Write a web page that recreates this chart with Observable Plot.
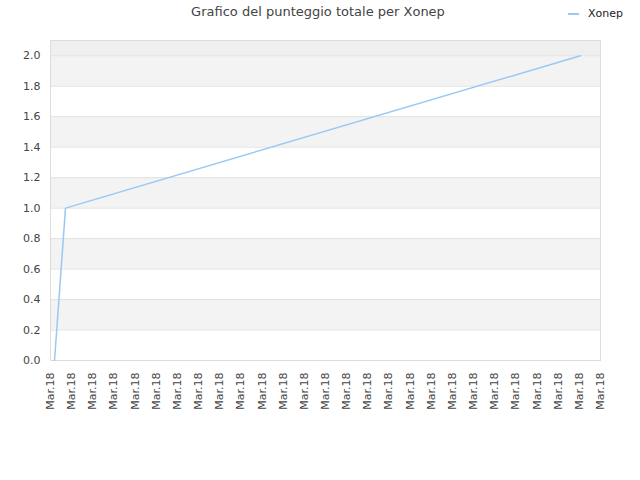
<!DOCTYPE html>
<html><head><meta charset="utf-8">
<script src="https://cdn.jsdelivr.net/npm/d3@7"></script>
<script src="https://cdn.jsdelivr.net/npm/@observablehq/plot@0.6"></script>
<style>
body{margin:0;background:#fff;font-family:"DejaVu Sans",sans-serif;}
#wrap{position:relative;width:640px;height:480px;}
#title{position:absolute;left:0;width:636px;top:4px;text-align:center;font-size:13px;color:#444;}
#legend{position:absolute;left:568px;top:7px;font-size:11px;color:#222;display:flex;align-items:center;}
#legend span.sw{display:inline-block;width:11px;height:2px;background:#99c8f5;margin-right:9px;}
#chart{position:absolute;left:0;top:0;}
</style></head>
<body><div id="wrap"><div id="chart"></div><div id="title">Grafico del punteggio totale per Xonep</div><div id="legend"><span class="sw"></span>Xonep</div></div>
<script>
const seriesName = "Xonep";
const xIndex = [0.19, 0.71, 25.05];
const scores = [0, 1, 2];
const xTicks = d3.range(0, 27);
const xTickLabel = "Mar.18";
const yTicks = [0, 0.2, 0.4, 0.6, 0.8, 1.0, 1.2, 1.4, 1.6, 1.8, 2.0];
const grayBandStarts = [0.2, 0.6, 1.0, 1.4, 1.8];
const topBand = [2.0, 2.1];

const data = xIndex.map((x, i) => ({x, y: scores[i], s: seriesName}));
const bands = grayBandStarts.map(b => ({y1: b, y2: Math.round((b + 0.2) * 10) / 10}));

const plot = Plot.plot({
  width: 640, height: 480,
  marginLeft: 50, marginRight: 40, marginTop: 40, marginBottom: 120,
  style: {fontFamily: "DejaVu Sans, sans-serif", fontSize: "11px", color: "#444", background: "transparent"},
  x: {domain: [0, 26], axis: null},
  y: {domain: [0, 2.1], axis: null},
  marks: [
    Plot.rect(bands, {x1: 0, x2: 26, y1: "y1", y2: "y2", fill: "#f3f3f3"}),
    Plot.rect([{y1: topBand[0], y2: topBand[1]}], {x1: 0, x2: 26, y1: "y1", y2: "y2", fill: "#efefef"}),
    Plot.ruleY(yTicks, {stroke: "#e2e2e2"}),
    Plot.frame({stroke: "#dddddd"}),
    Plot.axisY(yTicks, {tickSize: 0, tickPadding: 10, tickFormat: d => d.toFixed(1), fill: "#444", label: null}),
    Plot.axisX(xTicks, {tickSize: 0, tickPadding: 12, tickRotate: -90, tickFormat: () => xTickLabel, fill: "#444", label: null}),
    Plot.line(data, {x: "x", y: "y", stroke: "#99c8f5", strokeWidth: 1.5})
  ]
});
document.getElementById("chart").appendChild(plot);
</script></body></html>
